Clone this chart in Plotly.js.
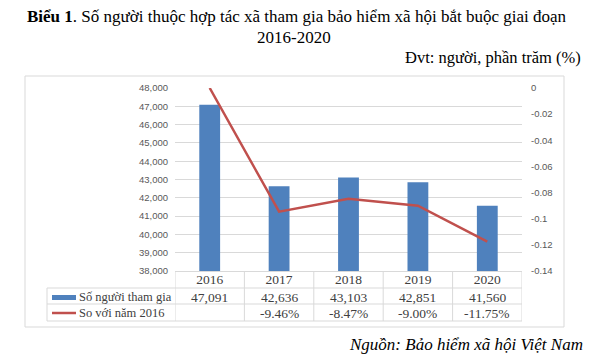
<!DOCTYPE html>
<html>
<head>
<meta charset="utf-8">
<script src="https://cdn.plot.ly/plotly-3.0.1.min.js"></script>
<style>html,body{margin:0;padding:0;background:#fff;}#chart{width:600px;height:360px;}</style>
</head>
<body>
<div id="chart"></div>
<script>
// ---- data ----
const years = ["2016", "2017", "2018", "2019", "2020"];
const participants = [47091, 42636, 43103, 42851, 41560];
const changeVs2016 = [0, -0.0946, -0.0847, -0.0900, -0.1175];
const y2TickVals = [0, -0.02, -0.04, -0.06, -0.08, -0.1, -0.12, -0.14];
const y2TickText = ["0", "-0.02", "-0.04", "-0.06", "-0.08", "-0.1", "-0.12", "-0.14"];
const seriesNames = ["Số người tham gia", "So với năm 2016"];

// ---- layout geometry (pixels) ----
const L = 175, R = 522, T = 88, B = 271;
const px2x = p => (p - L) / (R - L);
const py2y = p => (B - p) / (B - T);

const blue = "#4F81BD", red = "#C0504D", grid = "#d9d9d9";
const serif = "Liberation Serif, Times New Roman, serif";
const sans = "Liberation Sans, Arial, sans-serif";
const tblFont = {family: serif, size: 13.5, color: "#404040"};
const lblFont = {family: serif, size: 12.5, color: "#404040"};

const row1Y = py2y(297), row2Y = py2y(313);

const annotations = [];
years.forEach((yr, i) => {
  annotations.push({x: i, xref: "x", y: row1Y, yref: "paper", text: participants[i].toLocaleString("en-US"),
    showarrow: false, xanchor: "center", yanchor: "middle", font: tblFont});
  annotations.push({x: i, xref: "x", y: row2Y, yref: "paper",
    text: i === 0 ? "" : (changeVs2016[i] * 100).toFixed(2) + "%",
    showarrow: false, xanchor: "center", yanchor: "middle", font: tblFont});
});
annotations.push({x: px2x(77), xref: "paper", y: row1Y, yref: "paper", text: seriesNames[0], showarrow: false,
  xanchor: "left", yanchor: "middle", font: lblFont});
annotations.push({x: px2x(77), xref: "paper", y: row2Y, yref: "paper", text: seriesNames[1], showarrow: false,
  xanchor: "left", yanchor: "middle", font: lblFont});
// title (two lines)
annotations.push({x: px2x(296), xref: "paper", y: py2y(16), yref: "paper",
  text: "<b>Biểu 1</b>. Số người thuộc hợp tác xã tham gia bảo hiểm xã hội bắt buộc giai đoạn",
  showarrow: false, xanchor: "center", yanchor: "middle", font: {family: serif, size: 17, color: "#000"}});
annotations.push({x: px2x(294), xref: "paper", y: py2y(37.5), yref: "paper", text: "2016-2020",
  showarrow: false, xanchor: "center", yanchor: "middle", font: {family: serif, size: 17, color: "#000"}});
annotations.push({x: px2x(583), xref: "paper", y: py2y(57), yref: "paper", text: "Đvt: người, phần trăm (%)",
  showarrow: false, xanchor: "right", yanchor: "middle", font: {family: serif, size: 16.5, color: "#000"}});
annotations.push({x: px2x(585), xref: "paper", y: py2y(344), yref: "paper", text: "<i>Nguồn: Bảo hiểm xã hội Việt Nam</i>",
  showarrow: false, xanchor: "right", yanchor: "middle", font: {family: serif, size: 17, color: "#000"}});

const shapes = [];
// outer chart frame
shapes.push({type: "rect", xref: "paper", yref: "paper", x0: px2x(25), x1: px2x(564), y0: py2y(327), y1: py2y(76),
  line: {color: grid, width: 1}, layer: "below"});
// table vertical lines at category boundaries
for (let k = 0; k <= years.length; k++) {
  shapes.push({type: "line", xref: "x", yref: "paper", x0: k - 0.5, x1: k - 0.5, y0: py2y(271), y1: py2y(321),
    line: {color: grid, width: 1}});
}
// left border of label column
shapes.push({type: "line", xref: "paper", yref: "paper", x0: px2x(47), x1: px2x(47), y0: py2y(288), y1: py2y(321),
  line: {color: grid, width: 1}});
// horizontal table lines
[288, 304, 321].forEach(p => {
  shapes.push({type: "line", xref: "paper", yref: "paper", x0: px2x(47), x1: 1, y0: py2y(p), y1: py2y(p),
    line: {color: grid, width: 1}});
});
// legend keys
shapes.push({type: "rect", xref: "paper", yref: "paper", x0: px2x(52), x1: px2x(76), y0: py2y(300), y1: py2y(295),
  fillcolor: blue, line: {width: 0}});
shapes.push({type: "line", xref: "paper", yref: "paper", x0: px2x(52), x1: px2x(76), y0: py2y(313), y1: py2y(313),
  line: {color: red, width: 2.5}});

const traces = [
  {type: "bar", x: years, y: participants, name: seriesNames[0], marker: {color: blue}, width: 0.3, yaxis: "y"},
  {type: "scatter", mode: "lines", x: years, y: changeVs2016, name: seriesNames[1], yaxis: "y2",
    line: {color: red, width: 2.5}, cliponaxis: false}
];

const layout = {
  width: 600, height: 360,
  margin: {l: L, r: 600 - R, t: T, b: 360 - B},
  paper_bgcolor: "#fff", plot_bgcolor: "#fff",
  showlegend: false,
  xaxis: {type: "category", range: [-0.5, years.length - 0.5], autorange: false, showgrid: false,
    showline: true, linecolor: grid, linewidth: 1, ticks: "", tickfont: tblFont, zeroline: false,
    ticklabelstandoff: -4},
  yaxis: {range: [38000, 48000], autorange: false, dtick: 1000, tickformat: ",d", showgrid: true, gridcolor: grid, gridwidth: 1,
    zeroline: false, showline: false, ticks: "", ticklabelstandoff: 6,
    tickfont: {family: sans, size: 9.5, color: "#595959"}},
  yaxis2: {overlaying: "y", side: "right", range: [-0.14, 0], autorange: false, tickvals: y2TickVals, ticktext: y2TickText,
    showgrid: false, zeroline: false, showline: false, ticks: "", ticklabelstandoff: 8,
    tickfont: {family: sans, size: 9.5, color: "#595959"}},
  annotations: annotations,
  shapes: shapes
};

Plotly.newPlot("chart", traces, layout, {displayModeBar: false, staticPlot: true});
</script>
</body>
</html>
